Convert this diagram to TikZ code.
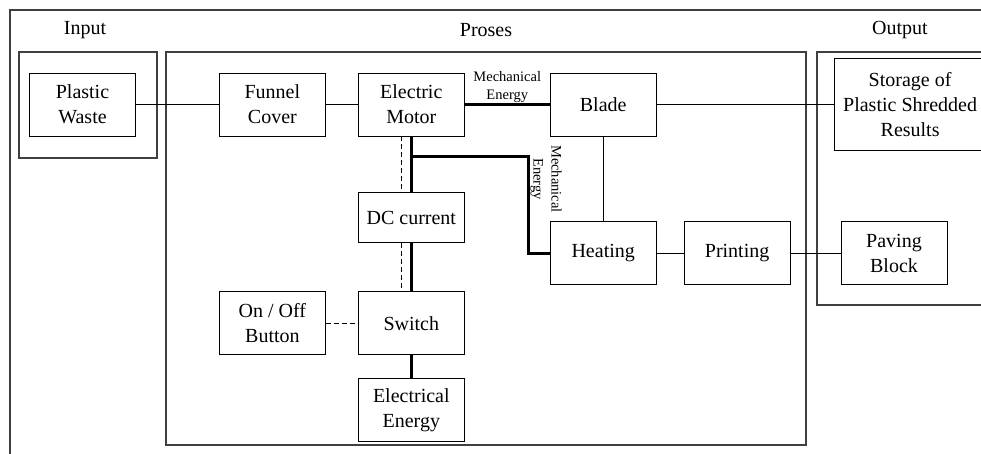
\documentclass[tikz,border=0pt]{standalone}
\usepackage{fontspec}
\setmainfont{Liberation Serif}
\usetikzlibrary{positioning, calc}

\begin{document}
\begin{tikzpicture}[
    x=1pt, y=-1pt,
    node distance=32pt and 32pt,
    box/.style={draw, rectangle, line width=0.9pt, minimum height=63pt,
      minimum width=106pt, align=center, inner sep=2pt,
      font=\fontsize{20}{25}\selectfont},
    head/.style={font=\fontsize{20}{25}\selectfont},
    frame/.style={draw=black!75, line width=1.2pt},
    link/.style={line width=0.9pt},
    power/.style={line width=2.6pt},
    signal/.style={line width=0.9pt, dash pattern=on 5pt off 3pt},
    smalltext/.style={font=\fontsize{14.5}{18}\selectfont, align=center, inner sep=1pt}
]
\useasboundingbox (0,0) rectangle (981,454);
\clip (0,0) rectangle (981,454);

% frames
\draw[frame] (10,10) rectangle (1000,480);
\draw[frame] (19,52) rectangle (157,158);
\draw[frame] (166,52) rectangle (806,445);
\draw[frame] (817,52) rectangle (1000,305);
\node[head] (inputhead) at (85,30) {Input};
\node[head] (proseshead) at (486,30) {Proses};
\node[head] (outputhead) at (900,30) {Output};

% blocks
\node[box] (waste) at (82.5,104.5) {Plastic\\Waste};
\node[box, right=83pt of waste] (funnel) {Funnel\\Cover};
\node[box, right=32pt of funnel] (motor) {Electric\\Motor};
\node[box, right=85pt of motor] (blade) {Blade};
\node[box, right=177pt of blade, minimum width=152pt, minimum height=92pt] (storage) {Storage of\\Plastic Shredded\\Results};
\node[box, below=56pt of motor, minimum height=50pt] (dc) {DC current};
\node[box, below=48pt of dc] (switch) {Switch};
\node[box, below=23pt of switch] (energy) {Electrical\\Energy};
\node[box, left=32pt of switch] (button) {On / Off\\Button};
\node[box, below=85pt of blade] (heating) {Heating};
\node[box, right=27pt of heating] (printing) {Printing};
\node[box, right=50pt of printing] (paving) {Paving\\Block};

% connectors
\draw[link] (waste) -- (funnel);
\draw[link] (funnel) -- (motor);
\draw[link] (blade) -- (storage);
\draw[link] (blade) -- (heating);
\draw[link] (heating) -- (printing);
\draw[link] (printing) -- (paving);
\draw[power] (motor) -- node[smalltext, above, inner sep=0.5pt] (mechtop) {Mechanical\\Energy} (blade);
\draw[power] (motor) -- (dc);
\draw[power] (dc) -- (switch);
\draw[power] (switch) -- (energy);
\draw[power] ($(motor.south)+(0,20)$) -| ($(heating.west)+(-21,0)$) -- (heating.west);
\draw[signal] ([xshift=-10pt]motor.south) -- ([xshift=-10pt]dc.north);
\draw[signal] ([xshift=-10pt]dc.south) -- ([xshift=-10pt]switch.north);
\draw[signal] (button) -- (switch);
\node[smalltext, rotate=-90] (mechside) at (546,179) {Mechanical\\Energy};
\end{tikzpicture}
\end{document}
